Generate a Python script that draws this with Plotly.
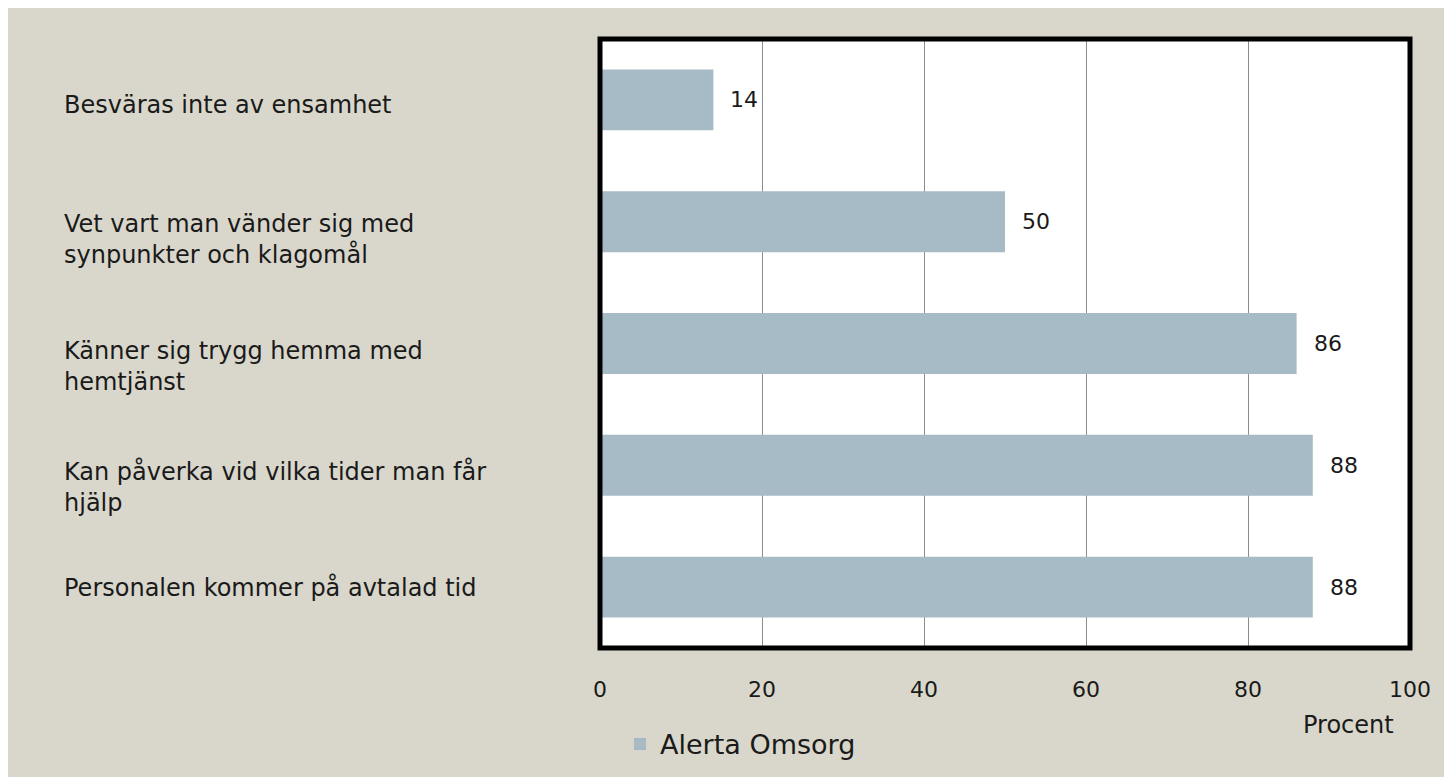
import plotly.graph_objects as go

categories = [
    "Besväras inte av ensamhet",
    "Vet vart man vänder sig med<br>synpunkter och klagomål",
    "Känner sig trygg hemma med<br>hemtjänst",
    "Kan påverka vid vilka tider man får<br>hjälp",
    "Personalen kommer på avtalad tid",
]
values = [14, 50, 86, 88, 88]
series_name = "Alerta Omsorg"
x_ticks = [0, 20, 40, 60, 80, 100]
x_title = "Procent"

# label vertical offsets (px) for left-aligned category labels
label_shift = [-5, -18, -23, -22, 0]

BG = "#D9D7CB"
BAR = "#A7BBC6"
FONT = "DejaVu Sans"
TXT = "#1a1a1a"

OFF = 8  # page body margin
W, H = 1452, 777
ML = 600 - OFF
MT = 38.5 - OFF
MR = W - (1410 - OFF)
MB = H - (648.5 - OFF)
PW = W - ML - MR
PH = H - MT - MB


def px_x(p):
    return (p - OFF - ML) / PW


def px_y(p):
    return (H - MB - (p - OFF)) / PH


fig = go.Figure()
fig.add_trace(go.Bar(
    y=categories, x=values, orientation="h", name=series_name,
    marker=dict(color=BAR, line=dict(width=0)),
    showlegend=True,
))

annotations = []
for cat, v in zip(categories, values):
    annotations.append(dict(
        x=v, y=cat, xref="x", yref="y", text=str(v), showarrow=False,
        xanchor="left", yanchor="middle", xshift=15,
        font=dict(size=22, color=TXT, family=FONT),
    ))
for cat, s in zip(categories, label_shift):
    annotations.append(dict(
        x=px_x(62), y=cat, xref="paper", yref="y", text=cat, showarrow=False,
        xanchor="left", yanchor="middle", align="left", yshift=s,
        font=dict(size=24, color=TXT, family=FONT),
    ))
annotations.append(dict(
    x=px_x(1348), y=px_y(726), xref="paper", yref="paper", text=x_title,
    showarrow=False, xanchor="center", yanchor="middle",
    font=dict(size=24, color=TXT, family=FONT),
))

shapes = [
    dict(type="rect", xref="paper", yref="paper", x0=0, x1=1, y0=0, y1=1,
         line=dict(color="black", width=5), fillcolor="rgba(0,0,0,0)", layer="above"),
]

fig.update_layout(
    width=W, height=H,
    margin=dict(l=ML, r=MR, t=MT, b=MB, pad=0),
    paper_bgcolor=BG, plot_bgcolor="white",
    bargap=0.5,
    font=dict(family=FONT, size=22, color=TXT),
    xaxis=dict(range=[0, 100], tickvals=x_ticks, showgrid=True,
               gridcolor="#8C8C8C", gridwidth=1, zeroline=False, showline=False,
               ticks="", ticklabelstandoff=26,
               tickfont=dict(size=22, family=FONT, color=TXT)),
    yaxis=dict(autorange="reversed", showticklabels=False, showgrid=False,
               zeroline=False, showline=False, ticks=""),
    legend=dict(orientation="h", x=px_x(620), y=px_y(745), xanchor="left",
                yanchor="middle", bgcolor="rgba(0,0,0,0)",
                font=dict(size=27, family=FONT, color=TXT)),
    annotations=annotations,
    shapes=shapes,
)

fig.write_html("out.html")
